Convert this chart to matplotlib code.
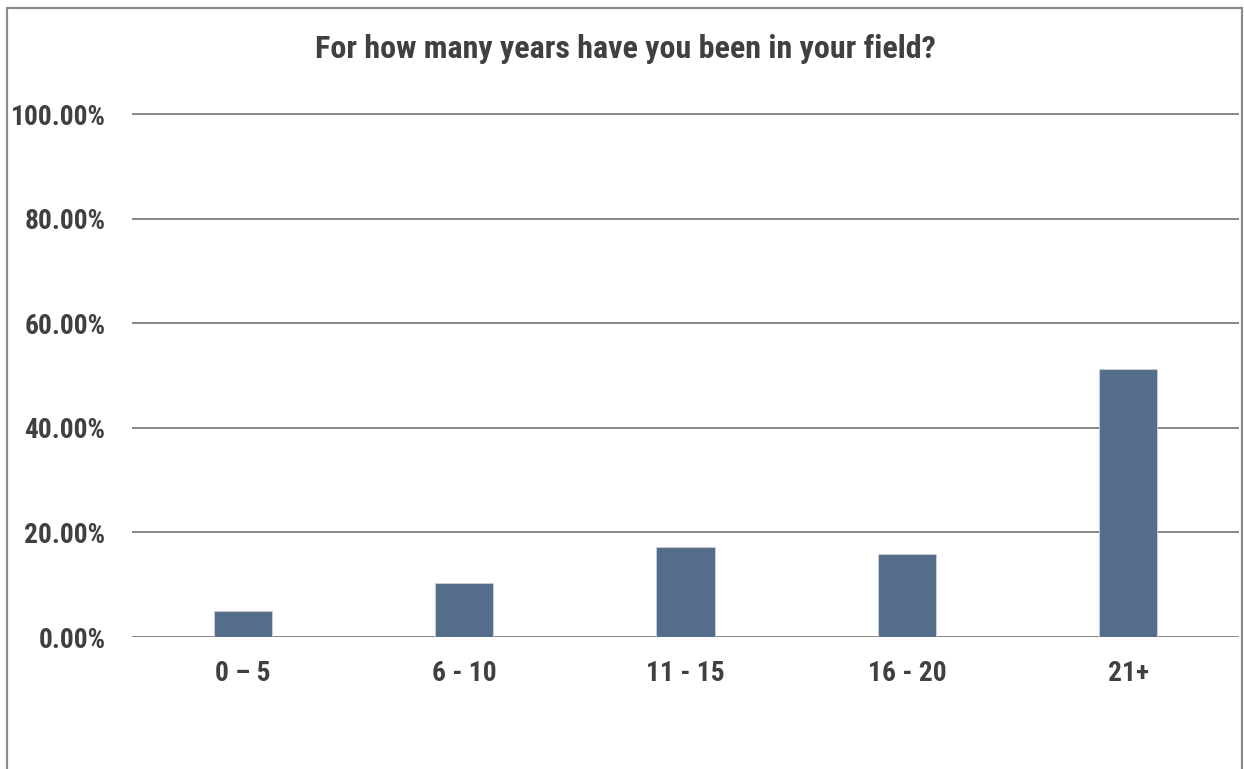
import matplotlib
matplotlib.use("Agg")
import matplotlib.pyplot as plt
from matplotlib.patches import Rectangle
from matplotlib.ticker import FuncFormatter

categories = ["0 \u2013 5", "6 - 10", "11 - 15", "16 - 20", "21+"]
values = [0.049, 0.104, 0.1727, 0.1595, 0.512]
yticks = [0.0, 0.2, 0.4, 0.6, 0.8, 1.0]
title = "For how many years have you been in your field?"

plt.rcParams['font.family'] = ['Roboto Condensed', 'Liberation Sans', 'DejaVu Sans']
plt.rcParams['font.weight'] = 'bold'

W, H = 1244, 769
fig = plt.figure(figsize=(W / 100, H / 100), dpi=100)

# outer border
fig.patches.append(Rectangle((7 / W, -0.05), (1242 - 7) / W, 1 - 8 / H + 0.05,
                             transform=fig.transFigure, fill=False,
                             edgecolor='#8c8c8c', linewidth=1.6))

ytop = 1.005
left = 132 / W
right = 1239 / W
bottom = 1 - 637 / H
height = 523 * ytop / H
ax = fig.add_axes([left, bottom, right - left, height])

x = list(range(len(categories)))
ax.bar(x, values, width=0.263, color='#536d8a', edgecolor='#c9d1db',
       linewidth=0.6, zorder=3)
ax.set_xlim(-0.5, len(categories) - 0.5)
ax.set_ylim(0, ytop)
ax.set_yticks(yticks)
ax.yaxis.set_major_formatter(FuncFormatter(lambda v, p: f"{v*100:.2f}%"))
ax.set_xticks(x)
ax.set_xticklabels(categories)
for s in ax.spines.values():
    s.set_visible(False)
ax.tick_params(axis='both', length=0, labelsize=19.8, labelcolor='#404040')
ax.tick_params(axis='y', pad=19)
ax.tick_params(axis='x', pad=16.5)
for t in ax.get_xticklabels() + ax.get_yticklabels():
    t.set_fontweight('bold')
for v in yticks:
    ax.axhline(v, color='#878787', linewidth=1.4, zorder=1)

fig.text(625.5 / W, 1 - 58.5 / H, title, ha='center', va='baseline',
         fontsize=23, fontweight='bold', color='#404040')

fig.savefig("out.png", dpi=100)
